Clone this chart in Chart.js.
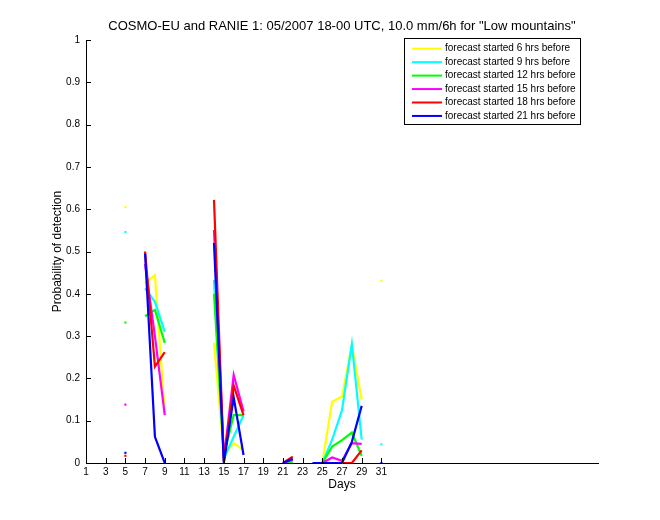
<!DOCTYPE html>
<html><head><meta charset="utf-8">
<script src="https://cdn.jsdelivr.net/npm/chart.js@4/dist/chart.umd.min.js"></script>
<style>html,body{margin:0;padding:0;background:#fff}#wrap{width:660px;height:520px}</style>
</head><body><div id="wrap"><canvas id="c" width="660" height="520"></canvas></div>
<script>
const titleText = 'COSMO-EU and RANIE 1: 05/2007 18-00 UTC, 10.0 mm/6h for "Low mountains"';
const xLabel = 'Days';
const yLabel = 'Probability of detection';
const days = [1,2,3,4,5,6,7,8,9,10,11,12,13,14,15,16,17,18,19,20,21,22,23,24,25,26,27,28,29,30,31];
const xTicks = [1,3,5,7,9,11,13,15,17,19,21,23,25,27,29,31];
const yTicks = [0,0.1,0.2,0.3,0.4,0.5,0.6,0.7,0.8,0.9,1];
const yTickLabels = ['0','0.1','0.2','0.3','0.4','0.5','0.6','0.7','0.8','0.9','1'];
const seriesNames = ['forecast started 6 hrs before','forecast started 9 hrs before','forecast started 12 hrs before','forecast started 15 hrs before','forecast started 18 hrs before','forecast started 21 hrs before'];
const seriesColors = ['#ffff00','#00ffff','#00ff00','#ff00ff','#ff0000','#0000ff'];
const _ = null;
//              1  2  3  4  5      6  7      8      9      10 11 12 13 14     15     16     17     18 19 20 21 22     23 24 25 26     27     28     29     30 31
const pod6h  = [_, _, _, _, 0.605, _, 0.425, 0.444, 0.118, _, _, _, _, 0.284, 0.020, 0.047, 0.031, _, _, _, 0, 0,     _, _, 0, 0.145, 0.157, 0.279, 0.150, _, 0.431];
const pod9h  = [_, _, _, _, 0.546, _, 0.413, 0.381, 0.310, _, _, _, _, 0.433, 0.010, 0.062, 0.113, _, _, _, 0, 0,     _, _, 0, 0.055, 0.125, 0.281, 0.055, _, 0.044];
const pod12h = [_, _, _, _, 0.332, _, 0.347, 0.362, 0.284, _, _, _, _, 0.400, 0.020, 0.113, 0.113, _, _, _, 0, 0.003, _, _, 0, 0.039, 0.054, 0.072, 0.017, _, _];
const pod15h = [_, _, _, _, 0.138, _, 0.470, 0.300, 0.113, _, _, _, _, 0.551, 0.010, 0.208, 0.122, _, _, _, 0, 0.008, _, _, 0, 0.013, 0.005, 0.047, 0.045, _, _];
const pod18h = [_, _, _, _, 0.017, _, 0.500, 0.228, 0.262, _, _, _, _, 0.622, 0.005, 0.183, 0.113, _, _, _, 0, 0.015, _, _, 0, 0,     0,     0,     0.030, _, _];
const pod21h = [_, _, _, _, 0.024, _, 0.495, 0.062, 0,     _, _, _, _, 0.520, 0,     0.155, 0.019, _, _, _, 0, 0.010, _, 0, 0, 0,     0,     0.050, 0.135, _, 0];
const seriesValues = [pod6h, pod9h, pod12h, pod15h, pod18h, pod21h];

const FONT = '"Liberation Sans", Arial, Helvetica, sans-serif';

function isolated(arr, i) {
  const prev = i > 0 ? arr[i-1] : null;
  const next = i < arr.length - 1 ? arr[i+1] : null;
  return arr[i] !== null && prev === null && next === null;
}

const datasets = seriesValues.map((vals, k) => ({
  label: seriesNames[k],
  data: days.map((d, i) => ({x: d, y: vals[i]})),
  borderColor: seriesColors[k],
  backgroundColor: seriesColors[k],
  borderWidth: 2.2,
  fill: false,
  tension: 0,
  spanGaps: false,
  order: seriesValues.length - k,
  pointStyle: 'rect',
  pointRadius: (ctx) => isolated(vals, ctx.dataIndex) ? 1.5 : 0,
  pointBorderWidth: 0,
  pointBackgroundColor: seriesColors[k],
  pointHoverRadius: 0
}));

const decor = {
  id: 'decor',
  afterDraw(chart) {
    const c = chart.ctx, a = chart.chartArea;
    const xs = chart.scales.x, ys = chart.scales.y;
    c.save();
    // inward tick marks
    c.strokeStyle = '#000'; c.lineWidth = 1;
    c.beginPath();
    xTicks.forEach(t => { const p = Math.round(xs.getPixelForValue(t)) + 0.5; c.moveTo(p, a.bottom); c.lineTo(p, a.bottom - 5); });
    yTicks.forEach(t => { const p = Math.round(ys.getPixelForValue(t)) + 0.5; c.moveTo(a.left, p); c.lineTo(a.left + 5, p); });
    c.stroke();
    // title & axis labels
    c.fillStyle = '#000';
    c.textAlign = 'center'; c.textBaseline = 'middle';
    const cx = (a.left + a.right) / 2;
    c.font = '13px ' + FONT;
    c.fillText(titleText, cx, 26);
    c.font = '12px ' + FONT;
    c.fillText(xLabel, cx, 485);
    c.save();
    c.translate(58, (a.top + a.bottom) / 2);
    c.rotate(-Math.PI / 2);
    c.fillText(yLabel, 0, 0);
    c.restore();
    // legend
    const lx = 404.5, ly = 38.5, lw = 176, lh = 86;
    c.fillStyle = '#fff'; c.fillRect(lx, ly, lw, lh);
    c.strokeStyle = '#000'; c.lineWidth = 1; c.strokeRect(lx, ly, lw, lh);
    c.font = '10px ' + FONT; c.textAlign = 'left'; c.textBaseline = 'middle';
    chart.data.datasets.forEach((ds, i) => {
      const y = 48.7 + 13.45 * i;
      c.strokeStyle = ds.borderColor; c.lineWidth = 2;
      c.beginPath(); c.moveTo(412, y); c.lineTo(442, y); c.stroke();
      c.fillStyle = '#000';
      c.fillText(ds.label, 445, y);
    });
    c.restore();
  }
};

new Chart(document.getElementById('c'), {
  type: 'line',
  data: { datasets },
  options: {
    responsive: false,
    animation: false,
    devicePixelRatio: 1,
    events: [],
    layout: { padding: { top: 40, right: 62, bottom: 0, left: 0 } },
    plugins: { legend: { display: false }, title: { display: false }, tooltip: { enabled: false } },
    scales: {
      x: {
        type: 'linear', min: 1, max: 53,
        grid: { display: false, drawTicks: false },
        border: { display: true, color: '#000', width: 1 },
        afterBuildTicks: (s) => { s.ticks = xTicks.map(v => ({ value: v })); },
        afterFit: (s) => { s.height = 57; },
        ticks: { autoSkip: false, maxRotation: 0, padding: 3, color: '#000', font: { family: FONT, size: 10 },
                 callback: (v) => String(v) }
      },
      y: {
        type: 'linear', min: 0, max: 1,
        grid: { display: false, drawTicks: false },
        border: { display: true, color: '#000', width: 1 },
        afterBuildTicks: (s) => { s.ticks = yTicks.map(v => ({ value: v })); },
        afterFit: (s) => { s.width = 86; },
        ticks: { autoSkip: false, padding: 6, color: '#000', font: { family: FONT, size: 10 },
                 callback: (v, i) => yTickLabels[i] }
      }
    }
  },
  plugins: [decor]
});
</script>
</body></html>
